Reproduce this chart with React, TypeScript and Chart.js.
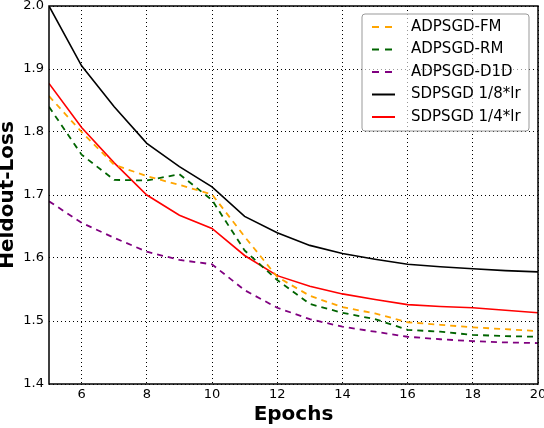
import React, { useEffect, useRef } from "react";
import { Chart, registerables } from "chart.js";

Chart.register(...registerables);

const epochs = [5, 6, 7, 8, 9, 10, 11, 12, 13, 14, 15, 16, 17, 18, 19, 20];
const adpsgdFM = [1.857, 1.8, 1.748, 1.73, 1.716, 1.701, 1.634, 1.57, 1.54, 1.522, 1.512, 1.498, 1.494, 1.49, 1.487, 1.484];
const adpsgdRM = [1.84, 1.764, 1.724, 1.723, 1.733, 1.692, 1.612, 1.565, 1.527, 1.513, 1.503, 1.486, 1.483, 1.478, 1.476, 1.475];
const adpsgdD1D = [1.69, 1.656, 1.632, 1.61, 1.597, 1.59, 1.549, 1.521, 1.503, 1.491, 1.483, 1.475, 1.471, 1.468, 1.466, 1.465];
const sdpsgd8 = [2.0, 1.905, 1.84, 1.782, 1.745, 1.713, 1.666, 1.64, 1.62, 1.607, 1.598, 1.59, 1.586, 1.583, 1.58, 1.578];
const sdpsgd4 = [1.877, 1.807, 1.751, 1.7, 1.668, 1.647, 1.604, 1.572, 1.555, 1.543, 1.534, 1.526, 1.523, 1.521, 1.517, 1.513];

const seriesLabels = ["ADPSGD-FM", "ADPSGD-RM", "ADPSGD-D1D", "SDPSGD 1/8*lr", "SDPSGD 1/4*lr"];
const xTicks = [6, 8, 10, 12, 14, 16, 18, 20];
const yTicks = [1.4, 1.5, 1.6, 1.7, 1.8, 1.9, 2.0];

const FONT = "'DejaVu Sans', sans-serif";

const pts = (ys: number[]) => ys.map((y, i) => ({ x: epochs[i], y }));

const framePlugin = {
  id: "frame",
  afterDatasetsDraw(chart: any) {
    const { ctx, chartArea: a } = chart;
    ctx.save();
    ctx.strokeStyle = "#000";
    ctx.lineWidth = 1.5;
    ctx.setLineDash([]);
    ctx.strokeRect(a.left, a.top, a.right - a.left, a.bottom - a.top);
    ctx.restore();
  },
};

const legendPlugin = {
  id: "boxLegend",
  afterDraw(chart: any) {
    const { ctx } = chart;
    const x0 = 362, y0 = 14, w = 167, h = 117, r = 3;
    ctx.save();
    ctx.beginPath();
    ctx.moveTo(x0 + r, y0);
    ctx.arcTo(x0 + w, y0, x0 + w, y0 + h, r);
    ctx.arcTo(x0 + w, y0 + h, x0, y0 + h, r);
    ctx.arcTo(x0, y0 + h, x0, y0, r);
    ctx.arcTo(x0, y0, x0 + w, y0, r);
    ctx.closePath();
    ctx.fillStyle = "rgba(255,255,255,0.6)";
    ctx.fill();
    ctx.strokeStyle = "#999";
    ctx.lineWidth = 1;
    ctx.stroke();
    ctx.font = `15px ${FONT}`;
    ctx.textBaseline = "middle";
    ctx.textAlign = "left";
    chart.data.datasets.forEach((ds: any, i: number) => {
      const y = 27 + i * 22.5;
      ctx.beginPath();
      ctx.strokeStyle = ds.borderColor;
      ctx.lineWidth = 2;
      ctx.setLineDash(ds.borderDash ? [7, 6] : []);
      ctx.moveTo(372, y);
      ctx.lineTo(395, y);
      ctx.stroke();
      ctx.setLineDash([]);
      ctx.fillStyle = "#000";
      ctx.fillText(ds.label, 411, y);
    });
    ctx.restore();
  },
};

export default function App() {
  const ref = useRef<HTMLCanvasElement>(null);
  useEffect(() => {
    const chart = new Chart(ref.current!, {
      type: "line",
      data: {
        datasets: [
          { label: seriesLabels[0], data: pts(adpsgdFM), borderColor: "#FFA500", borderDash: [6, 5], borderWidth: 1.8 },
          { label: seriesLabels[1], data: pts(adpsgdRM), borderColor: "#006400", borderDash: [6, 5], borderWidth: 1.8 },
          { label: seriesLabels[2], data: pts(adpsgdD1D), borderColor: "#800080", borderDash: [6, 5], borderWidth: 1.8 },
          { label: seriesLabels[3], data: pts(sdpsgd8), borderColor: "#000000", borderWidth: 1.6 },
          { label: seriesLabels[4], data: pts(sdpsgd4), borderColor: "#FF0000", borderWidth: 1.6 },
        ].map((d) => ({ ...d, pointRadius: 0, tension: 0, fill: false })),
      },
      options: {
        animation: false,
        responsive: true,
        maintainAspectRatio: false,
        layout: { padding: { top: 6, right: 6, left: 0, bottom: 0 } },
        plugins: { legend: { display: false }, tooltip: { enabled: false } },
        scales: {
          x: {
            type: "linear",
            min: 5,
            max: 20,
            afterBuildTicks: (s: any) => {
              s.ticks = xTicks.map((v) => ({ value: v }));
            },
            afterFit: (s: any) => {
              s.height = 44;
              s.paddingLeft = 0;
              s.paddingRight = 0;
            },
            ticks: {
              padding: 3,
              color: "#000",
              font: { family: FONT, size: 13 },
              maxRotation: 0,
              callback: (v: any) => String(v),
            },
            grid: { color: "#000", lineWidth: 1, drawTicks: false },
            border: { display: false, dash: [1, 3] },
            title: {
              display: true,
              text: "Epochs",
              color: "#000",
              font: { family: FONT, size: 20, weight: "bold" },
              padding: { top: 0, bottom: 1 },
            },
          },
          y: {
            type: "linear",
            min: 1.4,
            max: 2.0,
            afterBuildTicks: (s: any) => {
              s.ticks = yTicks.map((v) => ({ value: v }));
            },
            afterFit: (s: any) => {
              s.width = 49;
              s.paddingTop = 0;
              s.paddingBottom = 0;
            },
            ticks: {
              padding: 5,
              color: "#000",
              font: { family: FONT, size: 13 },
              callback: (v: any) => Number(v).toFixed(1),
            },
            grid: { color: "#000", lineWidth: 1, drawTicks: false },
            border: { display: false, dash: [1, 3] },
            title: {
              display: true,
              text: "Heldout-Loss",
              color: "#000",
              font: { family: FONT, size: 20, weight: "bold", lineHeight: 0.8 },
              padding: 0,
            },
          },
        },
      },
      plugins: [framePlugin, legendPlugin],
    } as any);
    return () => chart.destroy();
  }, []);
  return (
    <div style={{ position: "absolute", left: 0, top: 0, width: 544, height: 428 }}>
      <canvas ref={ref} />
    </div>
  );
}
